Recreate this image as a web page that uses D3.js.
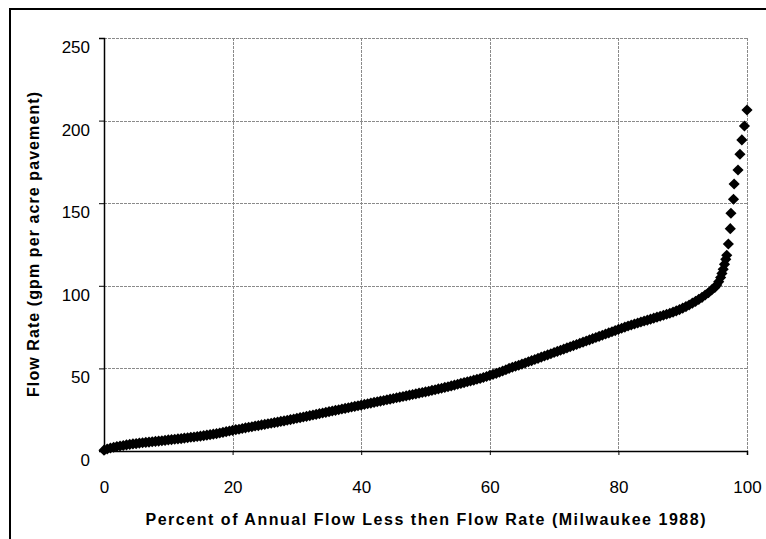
<!DOCTYPE html>
<html>
<head>
<meta charset="utf-8">
<script src="https://cdn.jsdelivr.net/npm/d3@7"></script>
<style>
  body { margin: 0; background: #fff; }
  text { font-family: "Liberation Sans", Arial, sans-serif; fill: #000; }
</style>
</head>
<body>
<svg id="chart" width="766" height="539"></svg>
<script>
// percent of annual flow less than the flow rate (x) and flow rate in gpm per acre (y)
var percentLess = [
  0, 0.5, 1, 1.5, 2, 2.5, 3, 3.5, 4, 4.5, 5, 5.5, 6, 6.5, 7, 7.5, 8, 8.5, 9, 9.5,
  10, 10.5, 11, 11.5, 12, 12.5, 13, 13.5, 14, 14.5, 15, 15.5, 16, 16.5, 17, 17.5, 18, 18.5, 19, 19.5,
  20, 20.5, 21, 21.5, 22, 22.5, 23, 23.5, 24, 24.5, 25, 25.5, 26, 26.5, 27, 27.5, 28, 28.5, 29, 29.5,
  30, 30.5, 31, 31.5, 32, 32.5, 33, 33.5, 34, 34.5, 35, 35.5, 36, 36.5, 37, 37.5, 38, 38.5, 39, 39.5,
  40, 40.5, 41, 41.5, 42, 42.5, 43, 43.5, 44, 44.5, 45, 45.5, 46, 46.5, 47, 47.5, 48, 48.5, 49, 49.5,
  50, 50.5, 51, 51.5, 52, 52.5, 53, 53.5, 54, 54.5, 55, 55.5, 56, 56.5, 57, 57.5, 58, 58.5, 59, 59.5,
  60, 60.5, 61, 61.5, 62, 62.5, 63, 63.5, 64, 64.5, 65, 65.5, 66, 66.5, 67, 67.5, 68, 68.5, 69, 69.5,
  70, 70.5, 71, 71.5, 72, 72.5, 73, 73.5, 74, 74.5, 75, 75.5, 76, 76.5, 77, 77.5, 78, 78.5, 79, 79.5,
  80, 80.5, 81, 81.5, 82, 82.5, 83, 83.5, 84, 84.5, 85, 85.5, 86, 86.5, 87, 87.5, 88, 88.5, 89, 89.5,
  90, 90.5, 91, 91.5, 92, 92.5, 93, 93.5, 94, 94.5, 95, 95.3, 95.6, 95.9, 96.1, 96.3, 96.5, 96.7, 96.85,
  97.1, 97.4, 97.5, 97.9, 98.0, 98.6, 98.9, 99.2, 99.6, 100
];
var flowRate = [
  0.5, 1.2, 1.8, 2.3, 2.7, 3.0, 3.3, 3.7, 4.0, 4.3, 4.5, 4.8, 5.0, 5.2, 5.4, 5.6, 5.8, 6.0, 6.2, 6.4,
  6.7, 6.9, 7.1, 7.3, 7.5, 7.8, 8.0, 8.3, 8.5, 8.8, 9.0, 9.3, 9.6, 9.9, 10.2, 10.5, 10.9, 11.3, 11.7, 12.1,
  12.5, 12.9, 13.2, 13.6, 14.0, 14.4, 14.7, 15.1, 15.4, 15.8, 16.1, 16.5, 16.8, 17.2, 17.5, 17.9, 18.2, 18.6, 19.0, 19.4,
  19.8, 20.2, 20.6, 21.0, 21.4, 21.8, 22.2, 22.6, 23.0, 23.4, 23.8, 24.2, 24.6, 25.0, 25.4, 25.8, 26.2, 26.6, 27.0, 27.4,
  27.8, 28.2, 28.6, 29.0, 29.4, 29.8, 30.2, 30.6, 31.0, 31.4, 31.8, 32.2, 32.6, 33.0, 33.4, 33.8, 34.2, 34.6, 35.0, 35.4,
  35.8, 36.2, 36.7, 37.1, 37.6, 38.0, 38.5, 38.9, 39.4, 39.9, 40.4, 40.9, 41.4, 41.9, 42.4, 42.9, 43.4, 43.9, 44.5, 45.1,
  45.8, 46.4, 47.0, 47.7, 48.4, 49.2, 50.0, 50.7, 51.3, 51.9, 52.6, 53.3, 54.0, 54.7, 55.4, 56.1, 56.8, 57.5, 58.2, 58.9,
  59.6, 60.3, 61.0, 61.7, 62.4, 63.1, 63.8, 64.5, 65.2, 65.9, 66.6, 67.3, 68.0, 68.7, 69.4, 70.1, 70.8, 71.5, 72.2, 72.9,
  73.6, 74.3, 75.0, 75.7, 76.3, 76.9, 77.5, 78.1, 78.7, 79.2, 79.8, 80.4, 81.0, 81.6, 82.2, 82.8, 83.4, 84.1, 84.8, 85.6,
  86.5, 87.4, 88.4, 89.5, 90.6, 91.8, 93.0, 94.4, 95.8, 97.5, 99.0, 100.5, 102.5, 105, 107.5, 110, 113, 116, 118.5,
  125.3, 134.6, 143.9, 152.4, 161.6, 170.1, 179.6, 188.3, 196.7, 206.4
];
var xTicks = [0, 20, 40, 60, 80, 100];
var yTicks = [0, 50, 100, 150, 200, 250];

var svg = d3.select('#chart');
var plot = { left: 104, top: 38, right: 747, bottom: 451 };

var x = d3.scaleLinear().domain([0, 100]).range([plot.left, plot.right]);
var y = d3.scaleLinear().domain([0, 250]).range([plot.bottom, plot.top]);

// outer chart frame, cut by the page edge on the right and bottom
svg.append('rect')
  .attr('x', 10).attr('y', 9)
  .attr('width', 800).attr('height', 600)
  .attr('fill', 'none').attr('stroke', '#000').attr('stroke-width', 2);

// grid lines
var grid = svg.append('g').attr('stroke', '#8a8a8a').attr('stroke-width', 1).attr('stroke-dasharray', '3,1');
grid.selectAll('.gx').data(xTicks.slice(1)).enter().append('line')
  .attr('x1', (d) => Math.round(x(d)) + 0.5).attr('x2', (d) => Math.round(x(d)) + 0.5)
  .attr('y1', plot.top).attr('y2', plot.bottom);
grid.selectAll('.gy').data(yTicks.slice(1)).enter().append('line')
  .attr('y1', (d) => Math.round(y(d)) + 0.5).attr('y2', (d) => Math.round(y(d)) + 0.5)
  .attr('x1', plot.left).attr('x2', plot.right);

// axes
var xAxis = svg.append('g')
  .attr('transform', 'translate(0,' + plot.bottom + ')')
  .call(d3.axisBottom(x).tickValues(xTicks).tickSize(4).tickPadding(26).tickFormat(d3.format('d')));
var yAxis = svg.append('g')
  .attr('transform', 'translate(' + plot.left + ',0)')
  .call(d3.axisLeft(y).tickValues(yTicks).tickSize(5).tickPadding(9).tickFormat(d3.format('d')));

[xAxis, yAxis].forEach(function(ax) {
  ax.select('.domain').attr('stroke', '#000').attr('stroke-width', 1.5);
  ax.selectAll('.tick line').attr('stroke', '#000');
  ax.selectAll('.tick text')
    .style('font-family', '"Liberation Sans", Arial, sans-serif')
    .style('font-size', '17px')
    .attr('fill', '#000');
});
yAxis.selectAll('.tick text').attr('dy', '0.85em');

// markers: Excel style diamonds
var diamond = d3.symbol().type(d3.symbolSquare).size(62);
var points = percentLess.map((p, i) => ({ p: p, q: flowRate[i] }));
svg.append('g').selectAll('path').data(points).enter().append('path')
  .attr('d', diamond)
  .attr('transform', (d) => 'translate(' + x(d.p) + ',' + y(d.q) + ') rotate(45)')
  .attr('fill', '#000');

// axis titles
svg.append('text')
  .attr('x', (plot.left + plot.right) / 2).attr('y', 525)
  .attr('text-anchor', 'middle')
  .attr('textLength', 560).attr('lengthAdjust', 'spacing')
  .style('font-size', '16px').style('font-weight', 'bold')
  .text('Percent of Annual Flow Less then Flow Rate (Milwaukee 1988)');

svg.append('text')
  .attr('transform', 'translate(39,' + (plot.top + plot.bottom) / 2 + ') rotate(-90)')
  .attr('text-anchor', 'middle')
  .attr('textLength', 305).attr('lengthAdjust', 'spacing')
  .style('font-size', '16px').style('font-weight', 'bold')
  .text('Flow Rate (gpm per acre pavement)');
</script>
</body>
</html>
